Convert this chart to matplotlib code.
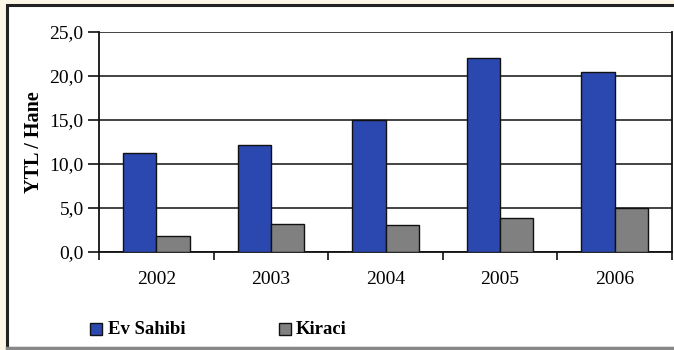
import matplotlib
matplotlib.use("Agg")
import matplotlib.pyplot as plt
import numpy as np
from matplotlib.patches import Rectangle
from matplotlib.lines import Line2D

years = ["2002", "2003", "2004", "2005", "2006"]
ev_sahibi = [11.2, 12.2, 15.0, 22.1, 20.5]
kiraci = [1.8, 3.2, 3.1, 3.9, 5.0]
yticks = [0, 5, 10, 15, 20, 25]
ytick_labels = ["0,0", "5,0", "10,0", "15,0", "20,0", "25,0"]

plt.rcParams['font.family'] = ['Liberation Serif', 'DejaVu Serif']

fig = plt.figure(figsize=(6.74, 3.5), dpi=100, facecolor='#FDF6E6')
# white inner panel
fig.patches.append(Rectangle((7/674, 2/350), 1.0, 343/350, transform=fig.transFigure,
                             facecolor='white', edgecolor='#222222', lw=2.2, zorder=-10))
fig.lines.append(Line2D([7/674, 1], [2/350, 2/350], transform=fig.transFigure,
                        color='#888888', lw=2.5, zorder=-9))

ax = fig.add_axes([99/674, 98/350, 573/674, 220/350])
ax.set_facecolor('white')
x = np.arange(len(years))
w = 0.29
ax.bar(x - w/2, ev_sahibi, w, color='#2B48B0', edgecolor='#111111', lw=1.0, zorder=3)
ax.bar(x + w/2, kiraci, w, color='#808080', edgecolor='#111111', lw=1.0, zorder=3)

ax.set_xlim(-0.5, len(years) - 0.5)
ax.set_ylim(0, 25)
ax.set_yticks(yticks)
ax.set_yticklabels(ytick_labels, fontsize=14)
ax.set_xticks(x)
ax.set_xticklabels(years, fontsize=14)
ax.set_xticks(np.arange(len(years) + 1) - 0.5, minor=True)
ax.tick_params(axis='x', which='major', length=0, pad=14)
ax.tick_params(axis='x', which='minor', length=6, width=1.2, direction='out', color='#111111')
ax.tick_params(axis='y', length=8, width=1.2, direction='out', color='#111111', pad=3)
ax.grid(axis='y', color='#111111', lw=1.1, zorder=1)
for s in ['left', 'bottom', 'right']:
    ax.spines[s].set_color('#111111')
    ax.spines[s].set_linewidth(1.3)
ax.spines['top'].set_visible(False)
ax.set_ylabel("YTL / Hane", fontsize=14.5, fontweight='bold', labelpad=4)

# legend
fig.patches.append(Rectangle((90/674, (350-335)/350), 12/674, 12/350, transform=fig.transFigure,
                             facecolor='#2B48B0', edgecolor='#111111', lw=1.0))
fig.text(108/674, (350-329)/350, "Ev Sahibi", fontsize=13.5, fontweight='bold', va='center', ha='left')
fig.patches.append(Rectangle((279/674, (350-335)/350), 12/674, 12/350, transform=fig.transFigure,
                             facecolor='#808080', edgecolor='#111111', lw=1.0))
fig.text(296/674, (350-329)/350, "Kiraci", fontsize=13.5, fontweight='bold', va='center', ha='left')

fig.savefig("out.png", dpi=100, facecolor=fig.get_facecolor())
